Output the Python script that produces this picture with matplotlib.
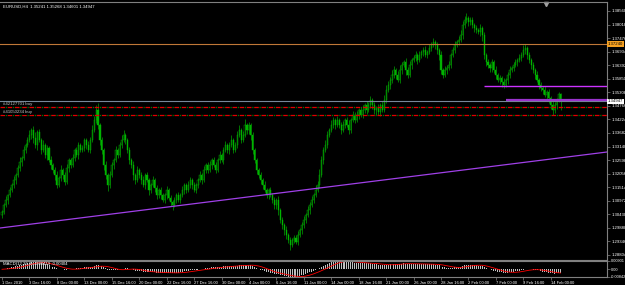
import matplotlib
matplotlib.use("Agg")
import matplotlib.pyplot as plt
import numpy as np
import pandas as pd

plt.rcParams["font.family"] = ["Liberation Sans", "DejaVu Sans"]

# EURUSD H4, 1 Dec 2010 - 14 Feb 2011
symbol_info = "EURUSD,H4  1.35241 1.35268 1.34601 1.34947"
first_open = 1.3040

closes = [
    1.3052, 1.3080, 1.3100, 1.3120, 1.3140, 1.3160,
    1.3180, 1.3200, 1.3228, 1.3252, 1.3268,
    1.3300, 1.3320, 1.3340, 1.3360, 1.3380,
    1.3348, 1.3320, 1.3372, 1.3340, 1.3300,
    1.3320, 1.3280, 1.3308, 1.3260, 1.3240,
    1.3220, 1.3200, 1.3160, 1.3188, 1.3220,
    1.3200, 1.3172, 1.3228, 1.3260, 1.3240,
    1.3268, 1.3300, 1.3280, 1.3320, 1.3300,
    1.3308, 1.3340, 1.3320, 1.3300, 1.3340,
    1.3380, 1.3420, 1.3460, 1.3400, 1.3340,
    1.3300, 1.3240, 1.3200, 1.3160, 1.3200,
    1.3240, 1.3260, 1.3300, 1.3280, 1.3320,
    1.3340, 1.3360, 1.3340, 1.3300, 1.3260,
    1.3240, 1.3200, 1.3180, 1.3220, 1.3200,
    1.3180, 1.3160, 1.3200, 1.3180, 1.3140,
    1.3160, 1.3180, 1.3148, 1.3120, 1.3140,
    1.3120, 1.3100, 1.3120, 1.3140, 1.3108,
    1.3092, 1.3080, 1.3100, 1.3120, 1.3100,
    1.3120, 1.3140, 1.3160, 1.3140, 1.3160,
    1.3180, 1.3160, 1.3140, 1.3160, 1.3180,
    1.3200, 1.3180, 1.3220, 1.3240, 1.3220,
    1.3240, 1.3260, 1.3240, 1.3220, 1.3260,
    1.3280, 1.3260, 1.3300, 1.3320, 1.3300,
    1.3320, 1.3340, 1.3300, 1.3320, 1.3360,
    1.3380, 1.3340, 1.3360, 1.3400, 1.3380,
    1.3400, 1.3360, 1.3300, 1.3260, 1.3220,
    1.3200, 1.3180, 1.3160, 1.3140, 1.3120,
    1.3140, 1.3120, 1.3100, 1.3080, 1.3100,
    1.3060, 1.3020, 1.3000, 1.2980, 1.2960,
    1.2940, 1.2920, 1.2940, 1.2948, 1.2932,
    1.2960, 1.2980, 1.3000, 1.3020, 1.3040,
    1.3060, 1.3080, 1.3100, 1.3120, 1.3140,
    1.3160, 1.3200, 1.3260, 1.3300, 1.3320,
    1.3360, 1.3380, 1.3400, 1.3420, 1.3400,
    1.3420, 1.3400, 1.3380, 1.3400, 1.3420,
    1.3400, 1.3380, 1.3420, 1.3440, 1.3420,
    1.3440, 1.3460, 1.3440, 1.3460, 1.3480,
    1.3460, 1.3480, 1.3500, 1.3480, 1.3460,
    1.3468, 1.3452, 1.3480, 1.3460, 1.3500,
    1.3540, 1.3560, 1.3580, 1.3600, 1.3620,
    1.3600, 1.3580, 1.3620, 1.3640, 1.3652,
    1.3620, 1.3600, 1.3640, 1.3660, 1.3668,
    1.3680, 1.3660, 1.3680, 1.3692, 1.3700,
    1.3680, 1.3692, 1.3708, 1.3720, 1.3732,
    1.3720, 1.3700, 1.3680, 1.3620, 1.3600,
    1.3620, 1.3628, 1.3640, 1.3680, 1.3700,
    1.3720, 1.3732, 1.3740, 1.3760, 1.3800,
    1.3820, 1.3828, 1.3812, 1.3820, 1.3800,
    1.3788, 1.3780, 1.3772, 1.3788, 1.3760,
    1.3680, 1.3652, 1.3640, 1.3628, 1.3652,
    1.3620, 1.3600, 1.3580, 1.3588, 1.3572,
    1.3560, 1.3580, 1.3600, 1.3620, 1.3628,
    1.3640, 1.3652, 1.3660, 1.3668, 1.3680,
    1.3700, 1.3708, 1.3680, 1.3660, 1.3640,
    1.3620, 1.3600, 1.3580, 1.3560, 1.3548,
    1.3540, 1.3520, 1.3532, 1.3508, 1.3480,
    1.3460, 1.3480, 1.3500, 1.3524, 1.34947,
]

# wicks above / below the body, in pips
wick_up = [
    10, 8, 14, 6, 12, 9, 15, 7, 11, 20,
    8, 16, 10, 12, 22, 9, 14, 25, 8, 12,
    10, 18, 7, 12, 9, 14, 8, 11, 16, 9,
    20, 7, 12, 15, 8, 10, 18, 9, 13, 11,
    8, 14, 10, 9, 16, 12, 20, 15, 18, 30,
    10, 12, 8, 14, 9, 16, 11, 8, 15, 10,
    12, 18, 22, 10, 8, 12, 9, 14, 10, 16,
    8, 11, 15, 9, 12, 7, 10, 14, 8, 11,
    9, 12, 7, 10, 14, 8, 11, 9, 13, 10,
    12, 8, 15, 10, 9, 14, 11, 8, 12, 10,
    9, 14, 10, 18, 8, 12, 15, 9, 11, 13,
    10, 16, 8, 12, 14, 9, 11, 18, 10, 12,
    15, 20, 9, 14, 25, 10, 12, 8, 11, 9,
    10, 8, 12, 9, 14, 10, 8, 11, 9, 12,
    10, 14, 9, 12, 8, 15, 10, 12, 9, 14,
    11, 16, 10, 12, 14, 9, 18, 11, 15, 10,
    20, 14, 25, 18, 12, 22, 15, 10, 18, 12,
    10, 15, 9, 12, 16, 10, 12, 18, 9, 14,
    11, 15, 10, 12, 18, 9, 14, 11, 16, 10,
    12, 9, 15, 10, 14, 18, 22, 15, 12, 20,
    16, 10, 14, 18, 12, 9, 15, 11, 14, 10,
    12, 16, 10, 14, 9, 12, 15, 10, 14, 12,
    16, 10, 12, 8, 15, 10, 14, 12, 16, 10,
    12, 14, 10, 16, 20, 18, 15, 22, 10, 12,
    14, 10, 12, 9, 15, 10, 12, 8, 14, 10,
    12, 9, 14, 10, 12, 8, 15, 10, 12, 14,
    10, 12, 14, 10, 16, 12, 20, 15, 10, 12,
    9, 12, 10, 14, 8, 12, 10, 15, 9, 12,
    10, 14, 12, 9, 8, 3,
]
wick_dn = [
    12, 9, 7, 14, 10, 8, 12, 15, 9, 11,
    14, 8, 12, 10, 9, 16, 20, 12, 18, 10,
    15, 9, 12, 18, 10, 14, 12, 20, 11, 9,
    12, 16, 10, 8, 14, 11, 9, 12, 10, 15,
    10, 8, 12, 14, 9, 11, 10, 8, 12, 14,
    18, 14, 20, 16, 22, 12, 10, 14, 9, 11,
    10, 12, 9, 14, 11, 16, 12, 20, 14, 10,
    12, 15, 10, 14, 9, 18, 12, 10, 14, 16,
    11, 14, 10, 12, 16, 9, 14, 18, 10, 12,
    9, 12, 10, 14, 11, 8, 12, 15, 10, 13,
    12, 9, 14, 10, 12, 11, 8, 14, 10, 12,
    9, 12, 10, 14, 8, 12, 15, 10, 12, 9,
    11, 10, 12, 9, 10, 14, 16, 18, 14, 12,
    15, 12, 14, 16, 10, 12, 14, 9, 12, 16,
    14, 18, 12, 16, 20, 14, 12, 18, 10, 12,
    9, 12, 10, 14, 11, 12, 9, 14, 10, 12,
    10, 9, 12, 10, 14, 8, 12, 10, 9, 12,
    14, 10, 12, 16, 10, 12, 9, 14, 11, 10,
    12, 9, 14, 10, 12, 11, 14, 10, 12, 15,
    14, 18, 12, 16, 10, 9, 12, 10, 14, 11,
    12, 16, 10, 12, 14, 10, 18, 12, 10, 14,
    10, 12, 14, 10, 12, 16, 10, 12, 9, 11,
    10, 14, 16, 22, 15, 12, 10, 14, 9, 12,
    10, 12, 9, 11, 10, 14, 12, 10, 14, 12,
    10, 14, 12, 10, 16, 25, 18, 14, 12, 16,
    14, 12, 16, 10, 14, 18, 12, 10, 14, 12,
    10, 12, 9, 14, 10, 12, 10, 14, 16, 12,
    14, 12, 16, 10, 14, 12, 16, 10, 14, 18,
    16, 20, 12, 14, 10, 35,
]

bid = 1.34947
orange_level = 1.3724
purple_hi, purple_hi_start = 1.3556, 246
purple_lo, purple_lo_start = 1.3500, 257
order_levels = [1.3473, 1.3440]
order_names = ["#42127701 buy", "#41050234 buy"]
trend_x = [-1.0, 308.7]
trend_y = [1.2988, 1.3292]

price_ticks = [1.38560, 1.38018, 1.37476, 1.36934, 1.36392, 1.35850, 1.35308,
               1.34766, 1.34224, 1.33682, 1.33140, 1.32598, 1.32056, 1.31514,
               1.30972, 1.30430, 1.29888, 1.29346, 1.28804]
date_labels = ["1 Dec 2010", "3 Dec 16:00", "8 Dec 00:00", "13 Dec 00:00",
               "15 Dec 16:00", "20 Dec 00:00", "22 Dec 16:00", "27 Dec 16:00",
               "30 Dec 00:00", "4 Jan 00:00", "6 Jan 16:00", "11 Jan 00:00",
               "14 Jan 00:00", "18 Jan 16:00", "21 Jan 00:00", "26 Jan 00:00",
               "28 Jan 16:00", "2 Feb 00:00", "7 Feb 00:00", "9 Feb 16:00",
               "14 Feb 00:00"]
bars_per_label = 14

n = min(len(closes), len(wick_up), len(wick_dn))
c = np.array(closes[:n])
o = np.array([first_open] + closes[:n - 1])
hi = np.maximum(o, c) + np.array(wick_up[:n]) * 0.0001
lo = np.minimum(o, c) - np.array(wick_dn[:n]) * 0.0001
idx = np.arange(n)

s = pd.Series(c)
macd = (s.ewm(span=12, adjust=False).mean() - s.ewm(span=26, adjust=False).mean()).values
signal = pd.Series(macd).rolling(9, min_periods=1).mean().values

W, H = 625, 285
fig = plt.figure(figsize=(W / 100, H / 100), dpi=100, facecolor="black")
ax = fig.add_axes([0, (H - 260) / H, 607 / W, 258 / H], facecolor="black")
axm = fig.add_axes([0, (H - 277) / H, 607 / W, 16 / H], facecolor="black")

green = "#00b400"
grey = "#808080"
xlim = (-1.02, 308.7)
fs = 3.1

# candles
ax.vlines(idx, lo, hi, color=green, lw=0.45)
bull = c >= o
ax.bar(idx[bull], (c - o)[bull], bottom=o[bull], width=0.55, color="black",
       edgecolor=green, lw=0.3)
ax.bar(idx[~bull], (o - c)[~bull], bottom=c[~bull], width=0.55, color=green,
       edgecolor=green, lw=0.3)

# objects
ax.axhline(orange_level, color="#c07838", lw=0.8)
ax.axhline(bid, color="#778899", lw=0.8)
ax.plot(trend_x, trend_y, color="#a040e8", lw=0.9)
ax.hlines(purple_hi, purple_hi_start, xlim[1], color="#cc33ff", lw=1.0)
ax.hlines(purple_lo, purple_lo_start, xlim[1], color="#9933cc", lw=1.6)
for lvl, name in zip(order_levels, order_names):
    ax.axhline(lvl, color="#e00000", lw=0.9, ls=(0, (3.6, 2.2)))
    ax.axhline(lvl, color="#008000", lw=0.9, ls=(1.6, (1.0, 4.8)))
    ax.text(0.5, lvl + 0.0002, name, fontsize=fs, color="#c8c8c8", va="bottom",
            bbox=dict(boxstyle="square,pad=0", fc="black", ec="none"))
ax.plot([277.6], [1.3886], marker="v", ms=3, color="#a0a0a0", clip_on=False)

ax.set_xlim(*xlim)
ax.set_ylim(1.286, 1.3892)
ax.set_xticks([])
ax.yaxis.tick_right()
ax.set_yticks(price_ticks)
ax.set_yticklabels([f"{v:.5f}" for v in price_ticks])
ax.tick_params(axis="y", colors=grey, labelcolor="white", labelsize=fs,
               length=2, width=0.5, pad=1)
for sp in ["top", "right", "bottom"]:
    ax.spines[sp].set_color(grey)
    ax.spines[sp].set_linewidth(0.8)
ax.spines["left"].set_visible(False)

ax.annotate(f"{orange_level:.5f}", xy=(1, orange_level), xycoords=("axes fraction", "data"),
            xytext=(0.5, 0), textcoords="offset points", va="center", fontsize=fs,
            color="black", bbox=dict(boxstyle="square,pad=0.15", fc="#f5a020", ec="none"),
            annotation_clip=False)
ax.annotate(f"{bid:.5f}", xy=(1, bid), xycoords=("axes fraction", "data"),
            xytext=(0.5, 0), textcoords="offset points", va="center", fontsize=fs,
            color="black", bbox=dict(boxstyle="square,pad=0.15", fc="white", ec="none"),
            annotation_clip=False)

fig.text(3 / W, 1 - 7 / H, symbol_info, fontsize=fs, color="white", va="center")

# MACD sub-window
axm.bar(idx, macd, width=0.5, color="#c0c0c0")
axm.plot(idx, signal, color="red", lw=0.6)
mmax = max(macd.max(), signal.max())
mmin = min(macd.min(), signal.min())
axm.set_ylim(mmin, mmax)
axm.set_xlim(*xlim)
axm.yaxis.tick_right()
axm.set_yticks([mmax, 0, mmin])
axm.set_yticklabels([f"{mmax:.5f}", "0.00", f"{mmin:.5f}"])
axm.tick_params(axis="y", colors=grey, labelcolor="white", labelsize=2.8,
                length=2, width=0.5, pad=1)
ticks = [k * bars_per_label for k in range(len(date_labels))]
axm.set_xticks(ticks)
axm.set_xticklabels(date_labels)
axm.tick_params(axis="x", colors=grey, labelcolor="white", labelsize=2.9,
                length=2, width=0.5, pad=1)
for lab in axm.get_xticklabels():
    lab.set_horizontalalignment("left")
for sp in ["top", "right", "bottom"]:
    axm.spines[sp].set_color(grey)
    axm.spines[sp].set_linewidth(0.8)
axm.spines["left"].set_visible(False)
axm.text(0.005, 0.82, f"MACD(12,26,9) {macd[-1]:.5f} {signal[-1]:.5f}",
         transform=axm.transAxes, fontsize=fs, color="white", va="center")

fig.savefig("out.png", dpi=100, facecolor="black")
